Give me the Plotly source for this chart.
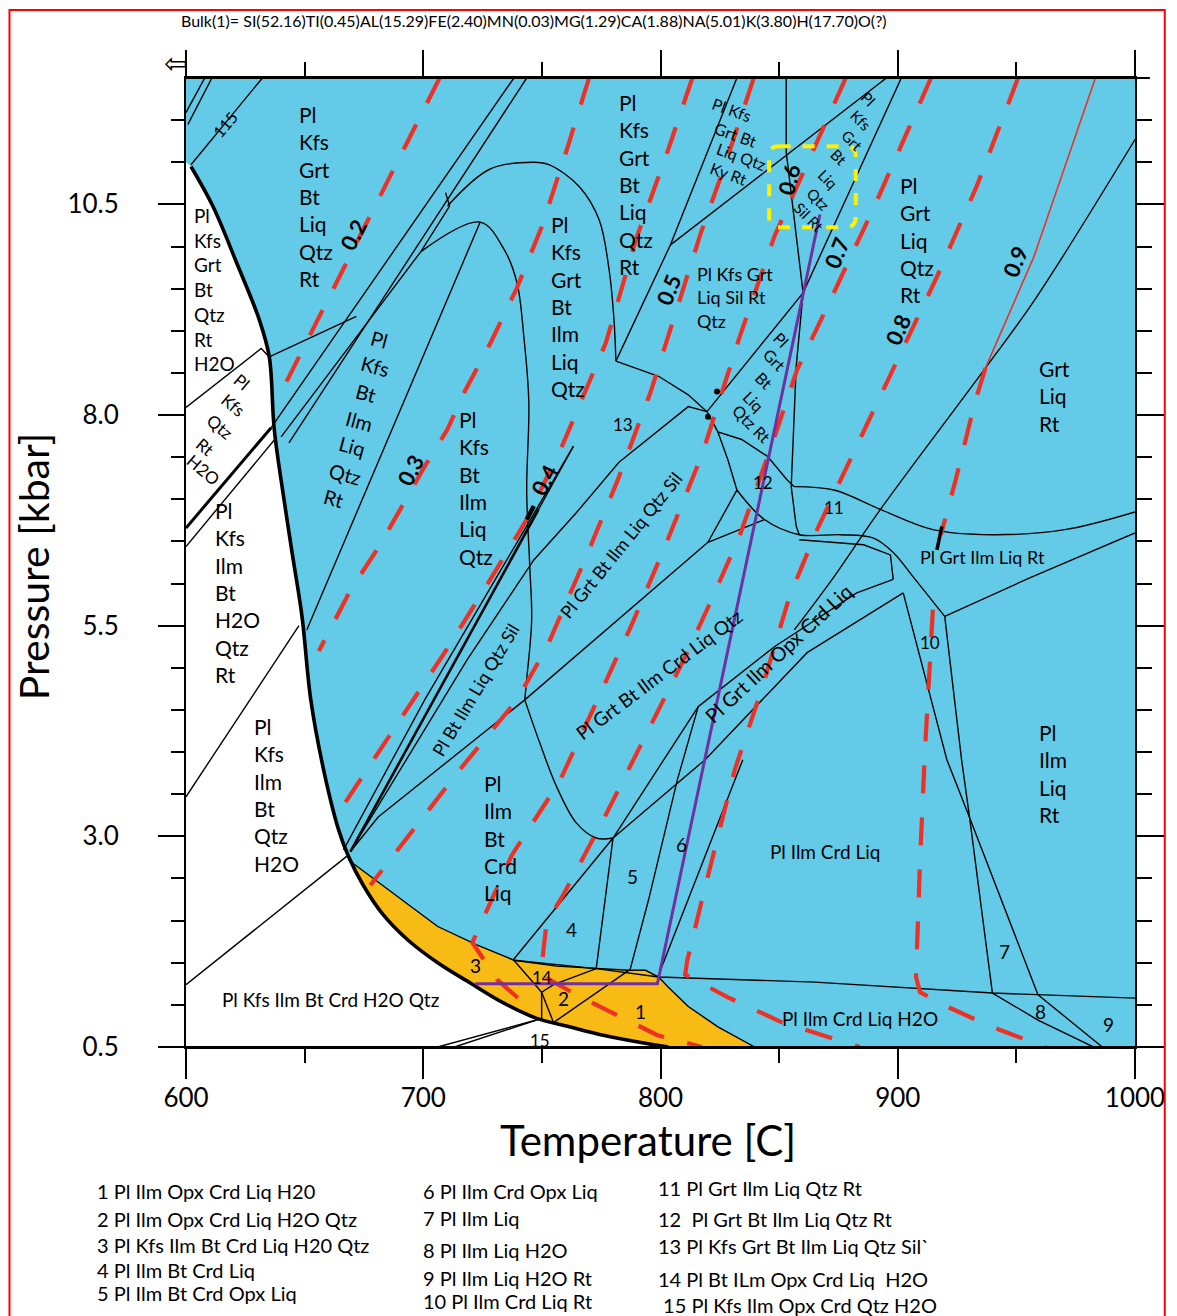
import plotly.graph_objects as go

# ---------------- axis ticks ----------------
T_MAJOR = [600, 700, 800, 900, 1000]
T_MINOR = [650, 750, 850, 950]
P_MAJOR = [0.5, 3.0, 5.5, 8.0, 10.5]
P_MAJOR_TEXT = ["0.5", "3.0", "5.5", "8.0", "10.5"]
P_MINOR = [1.0, 1.5, 2.0, 2.5, 3.5, 4.0, 4.5, 5.0, 6.0, 6.5, 7.0, 7.5,
           8.5, 9.0, 9.5, 10.0, 11.0, 11.5]
T_RANGE = [600, 1000]
P_RANGE = [0.5, 12.0]

BULK = "Bulk(1)= SI(52.16)TI(0.45)AL(15.29)FE(2.40)MN(0.03)MG(1.29)CA(1.88)NA(5.01)K(3.80)H(17.70)O(?)"

# ---------------- phase boundaries (T [C], P [kbar]) ----------------
solidus = [(602.1, 10.95), (611.3, 10.48), (621.3, 9.81), (630.9, 9.13), (635.1, 8.69),
           (637.2, 7.83), (641.3, 7.00), (644.7, 6.37), (648.9, 5.61), (652.6, 4.62),
           (658.0, 3.79), (664.3, 3.08), (668.5, 2.76), (674.7, 2.42), (683.1, 2.07),
           (693.5, 1.77), (706.1, 1.50), (719.8, 1.26), (734.0, 1.02), (747.8, 0.84),
           (761.6, 0.74), (775.8, 0.64), (792.5, 0.55), (803.3, 0.50)]
orange_top = [(668.5, 2.72), (681.0, 2.46), (693.5, 2.19), (706.1, 1.93), (722.8, 1.71),
              (738.2, 1.53), (756.2, 1.46), (772.9, 1.43), (786.6, 1.41), (793.7, 1.41),
              (799.2, 1.33), (803.3, 1.21), (811.7, 0.98), (824.2, 0.74), (839.7, 0.50)]
low_line = [(738.2, 1.53), (772.9, 1.43), (799.2, 1.33), (865.1, 1.27), (939.9, 1.14), (1000, 1.08)]

white_1 = [(600, 8.09), (631.7, 8.79), (635.1, 8.69)]
white_2 = [(600, 6.66), (635.9, 7.85)]
white_3 = [(600, 6.44), (638.0, 7.73)]
white_4 = [(600, 3.47), (647.6, 5.50)]
white_5 = [(600, 1.24), (668.5, 2.78)]
white_15a = [(706.1, 0.5), (747.8, 0.82)]
white_15b = [(713.2, 0.5), (749.9, 0.84)]
line_115 = [(602.1, 10.97), (632.2, 12.0)]
corner_1 = [(600, 11.59), (607.9, 12.0)]
corner_2 = [(600.8, 11.45), (610.9, 12.0)]

orange_1 = [(738.2, 1.53), (747.8, 1.21), (749.9, 1.15)]
orange_2 = [(749.9, 1.15), (749.9, 0.83)]
orange_3 = [(749.9, 1.15), (754.9, 0.79)]
orange_4 = [(749.9, 1.15), (754.9, 1.24), (772.9, 1.43)]
orange_5 = [(754.9, 0.79), (786.6, 1.41)]

line_L1 = [(738.2, 12.0), (635.9, 7.85)]
line_L2 = [(743.6, 12.0), (643.4, 7.67)]
line_L3 = [(709.4, 10.64), (711.1, 10.48), (699.0, 9.94), (640.1, 7.74)]
arc_E = [(710.2, 10.48), (728.2, 10.92), (746.6, 11.0), (753.2, 10.97), (765.8, 10.71),
         (774.1, 10.32), (778.3, 9.73), (780.4, 9.13), (781.2, 8.64)]
arc_F = [(699.0, 9.94), (724.0, 10.29), (734.0, 9.97), (739.5, 9.57), (742.4, 8.93),
         (744.5, 8.15), (743.6, 7.11), (744.9, 6.20), (745.7, 5.57), (743.6, 4.86), (742.8, 4.62)]
line_G = [(724.0, 10.29), (650.9, 5.45)]
line_H = [(635.1, 8.69), (671.8, 9.17)]
oval = [(742.8, 4.62), (749.1, 4.11), (756.2, 3.59), (764.5, 3.16), (772.9, 2.98), (780.0, 2.98)]
line_T1_thin = [(763.3, 7.63), (748.6, 6.88)]
line_T1_thick = [(748.6, 6.88), (669.3, 2.82)]
line_T2 = [(763.3, 7.63), (700.6, 4.62), (666.4, 2.84)]
line_T3 = [(819.6, 8.04), (811.7, 8.10), (782.5, 7.44), (764.5, 6.84), (746.6, 6.28),
           (718.6, 5.10), (669.3, 2.82)]
sil_low = [(742.8, 4.62), (681.0, 3.23), (669.3, 2.82)]
line_W = [(742.8, 4.62), (820.0, 6.49)]
line_J = [(781.2, 8.64), (804.2, 10.02), (832.2, 12.0)]
line_K = [(804.2, 10.02), (895.2, 12.0)]
line_L = [(853.0, 12.0), (853.0, 11.12), (860.1, 9.45), (857.2, 8.58), (855.1, 7.15),
          (857.2, 6.68), (858.5, 6.58)]
line_M = [(901.5, 12.0), (860.1, 9.45), (819.6, 8.04)]
line_P = [(781.2, 8.64), (799.2, 8.46), (811.7, 8.24), (819.6, 8.04)]
line_Q = [(819.6, 8.04), (824.2, 7.80), (834.2, 7.71), (845.1, 7.51), (853.4, 7.23), (856.4, 7.15)]
line_Q2 = [(824.2, 7.80), (828.4, 7.47), (832.2, 7.11)]
line_R = [(856.4, 7.15), (873.1, 7.11), (892.7, 6.88), (914.8, 6.64), (939.9, 6.58),
          (970.4, 6.64), (1000, 6.85)]
line_S = [(832.2, 7.11), (843.8, 6.76), (858.5, 6.58), (876.0, 6.58), (889.8, 6.54),
          (898.1, 6.37), (906.5, 6.08), (919.8, 5.61)]
line_S2 = [(858.5, 6.52), (885.6, 6.46), (896.9, 6.34), (898.1, 6.05)]
line_U = [(832.2, 7.11), (820.0, 6.49)]
line_V = [(820.0, 6.49), (843.8, 6.76)]
line_O = [(1000, 11.27), (957.8, 9.37), (937.0, 8.56), (892.7, 6.88), (873.1, 6.08), (856.4, 5.45)]
opx_upper = [(898.1, 6.05), (882.7, 5.89), (848.0, 5.25), (815.9, 4.54)]
opx_lower = [(780.0, 2.98), (818.8, 3.91), (861.8, 5.18), (902.3, 5.89)]
line_d1 = [(780.0, 2.98), (815.9, 4.54)]
line_e = [(787.1, 1.41), (795.0, 2.25), (807.1, 3.67), (815.9, 4.54)]
line_f = [(798.7, 1.32), (834.7, 3.91)]
line_g1 = [(780.0, 2.98), (737.8, 1.53)]
line_g2 = [(780.0, 2.98), (772.9, 1.43)]
line_XA = [(902.3, 5.89), (920.7, 3.91), (930.3, 3.22), (959.1, 1.12)]
line_XB = [(919.8, 5.61), (926.9, 3.91), (930.3, 3.22), (939.9, 1.14)]
line_rlow = [(919.8, 5.61), (956.6, 6.08), (1000, 6.60)]
line_89a = [(939.9, 1.14), (959.1, 0.82), (982.5, 0.5)]
line_89b = [(959.1, 1.12), (986.2, 0.5)]
tick_09 = [(918.6, 6.68), (916.5, 6.40)]
tick_04 = [(746.6, 6.92), (743.6, 6.76)]
dots = [(823.8, 8.28), (820.0, 7.98)]

# ---------------- isopleths ----------------
iso_02 = [(706.9, 12.0), (640.1, 8.27)]
iso_03 = [(769.9, 12.0), (760.3, 11.13), (749.9, 10.23), (739.5, 9.51), (728.6, 8.87),
          (717.3, 8.27), (710.2, 7.83), (700.6, 7.39), (681.8, 6.46), (669.3, 5.92), (656.0, 5.20)]
iso_04 = [(813.4, 12.0), (802.9, 11.12), (789.6, 10.08), (777.0, 8.86), (759.1, 7.67),
          (743.6, 6.76), (725.7, 5.93), (709.0, 5.18), (689.4, 4.35), (666.4, 3.37)]
iso_05 = [(839.3, 12.0), (827.1, 10.96), (817.1, 10.17), (809.6, 9.49), (795.8, 8.27),
          (782.0, 7.23), (768.7, 6.32), (752.0, 5.24), (739.5, 4.62), (716.5, 3.83),
          (693.5, 2.99), (677.7, 2.42)]
iso_06 = [(878.1, 12.0), (867.2, 11.31), (860.1, 10.88), (848.0, 10.12), (833.4, 8.93),
          (817.5, 7.53), (801.3, 6.40), (788.3, 5.54), (774.1, 4.66), (757.4, 3.65),
          (737.4, 2.78), (720.7, 1.74), (731.1, 1.30), (745.7, 0.94)]
iso_07 = [(914.0, 12.0), (890.2, 10.48), (869.7, 9.25), (857.6, 8.54), (847.2, 7.67),
          (833.0, 6.54), (820.9, 5.77), (810.4, 5.13), (792.9, 4.15), (775.4, 3.17),
          (759.1, 2.31), (752.0, 1.98), (749.5, 1.36), (764.5, 1.12), (798.7, 0.64), (817.5, 0.50)]
iso_08 = [(950.7, 12.0), (933.2, 10.71), (916.5, 9.64), (901.0, 8.72), (881.4, 7.55),
          (866.0, 6.64), (854.3, 5.84), (842.6, 4.74), (831.3, 3.79), (823.0, 2.88),
          (817.5, 2.25), (811.3, 1.53), (810.4, 1.36), (828.4, 1.09), (851.4, 0.79), (883.9, 0.50)]
iso_09_solid = [(983.3, 12.0), (957.4, 9.88), (937.0, 8.56)]
iso_09_upper = [(937.0, 8.56), (932.8, 8.18), (924.4, 7.23), (918.2, 6.58)]
iso_09_lower = [(914.8, 5.69), (911.5, 4.03), (909.4, 2.72), (908.1, 1.57), (907.7, 1.33),
                (909.4, 1.15), (922.3, 0.96), (939.5, 0.74), (962.4, 0.50)]
iso_labels = ["0.2", "0.3", "0.4", "0.5", "0.6", "0.7", "0.8", "0.9"]
iso_label_T = [670.6, 694.8, 751.2, 803.4, 854.0, 874.3, 900.2, 949.5]
iso_label_P = [10.14, 7.35, 7.23, 9.49, 10.80, 9.93, 9.01, 9.82]
iso_label_angle = [-63, -62, -62, -68, -75, -68, -66, -68]

# P-T path and highlighted field
path_T = [721.9, 798.7, 867.2]
path_P = [1.25, 1.25, 10.38]
box_T = [845.8, 882.3]
box_P = [10.23, 11.19]

BLUE = "#63CBE8"
ORANGE = "#F8BA15"
RED = "#EE3124"
PURPLE = "#7030A0"
FONT = "Lato"

fig = go.Figure()


def xs(pts):
    return [p[0] for p in pts]


def ys(pts):
    return [p[1] for p in pts]


def draw(pts, width=1.4, color="black", dash=None, shape="linear"):
    fig.add_trace(go.Scatter(x=xs(pts), y=ys(pts), mode="lines",
                             line=dict(color=color, width=width, dash=dash, shape=shape),
                             hoverinfo="skip", showlegend=False))


# filled fields
blue_poly = [(600, 12.0), (1000, 12.0), (1000, 0.5)] + solidus[::-1] + [(600, 11.0)]
fig.add_trace(go.Scatter(x=xs(blue_poly), y=ys(blue_poly), fill="toself", fillcolor=BLUE,
                         mode="lines", line=dict(width=0), hoverinfo="skip", showlegend=False))
lower_sol = [p for p in solidus if p[1] <= 2.76]
orange_poly = orange_top + lower_sol[::-1]
fig.add_trace(go.Scatter(x=xs(orange_poly), y=ys(orange_poly), fill="toself", fillcolor=ORANGE,
                         mode="lines", line=dict(width=0), hoverinfo="skip", showlegend=False))

# thin boundaries
for ln in [orange_top, low_line, white_1, white_3, white_4, white_5, white_15a, white_15b,
           line_115, corner_1, corner_2, orange_1, orange_2, orange_3, orange_4, orange_5,
           line_L1, line_L2, line_L3, line_G, line_H, line_T1_thin, line_T2, line_T3, sil_low,
           line_W, line_J, line_K, line_L, line_M, line_P, line_Q, line_Q2, line_S2, line_U,
           line_V, opx_upper, opx_lower, line_d1, line_e, line_f, line_g1, line_g2, line_XA,
           line_XB, line_rlow, line_89a, line_89b]:
    draw(ln)
for ln in [arc_E, arc_F, oval, line_R, line_S, line_O]:
    draw(ln, shape="spline")
draw(white_2, width=3)
draw(line_T1_thick, width=2.6)
draw(solidus, width=3.6, shape="spline")

# isopleths
DASH = "28px,24px"
for iso in [iso_02, iso_03, iso_04, iso_05, iso_06, iso_07, iso_08, iso_09_upper, iso_09_lower]:
    draw(iso, width=4.2, color=RED, dash=DASH)
draw(iso_09_solid, width=1.6, color=RED)
draw(tick_09, width=3.5)
draw(tick_04, width=4.5)
fig.add_trace(go.Scatter(x=xs(dots), y=ys(dots), mode="markers",
                         marker=dict(color="black", size=6), hoverinfo="skip", showlegend=False))

# P-T path
fig.add_trace(go.Scatter(x=path_T, y=path_P, mode="lines", line=dict(color=PURPLE, width=3),
                         hoverinfo="skip", showlegend=False))

# dummy trace for mirrored axes
fig.add_trace(go.Scatter(x=[T_RANGE[0]], y=[P_RANGE[0]], xaxis="x2", yaxis="y2", mode="markers",
                         marker=dict(opacity=0), hoverinfo="skip", showlegend=False))

# yellow rounded box
rT, rP = 4.0, 0.12
t0, t1 = box_T
p0, p1 = box_P
box_path = (f"M {t0+rT},{p1} L {t1-rT},{p1} Q {t1},{p1} {t1},{p1-rP} L {t1},{p0+rP} "
            f"Q {t1},{p0} {t1-rT},{p0} L {t0+rT},{p0} Q {t0},{p0} {t0},{p0+rP} "
            f"L {t0},{p1-rP} Q {t0},{p1} {t0+rT},{p1} Z")
fig.add_shape(type="path", path=box_path, xref="x", yref="y",
              line=dict(color="#FFF200", width=4, dash="dash"))

# ---------------- labels ----------------
def label(text, T, P, size=20, angle=0, anchor="center", bold=False, align="left"):
    fig.add_annotation(x=T, y=P, xref="x", yref="y", text=text, showarrow=False,
                       textangle=angle, xanchor=anchor, yanchor="middle", align=align,
                       font=dict(family=FONT, size=size, color="black",
                                 weight="bold" if bold else "normal"))


stacks = [
    ("Pl<br>Kfs<br>Grt<br>Bt<br>Liq<br>Qtz<br>Rt", 646.8, 10.59, 21),
    ("Pl<br>Kfs<br>Grt<br>Bt<br>Qtz<br>Rt<br>H2O", 602.5, 9.49, 19),
    ("Pl<br>Kfs<br>Ilm<br>Bt<br>H2O<br>Qtz<br>Rt", 611.5, 5.89, 21),
    ("Pl<br>Kfs<br>Ilm<br>Bt<br>Qtz<br>H2O", 628.0, 3.49, 21),
    ("Pl<br>Kfs<br>Bt<br>Ilm<br>Liq<br>Qtz", 714.4, 7.14, 21),
    ("Pl<br>Kfs<br>Grt<br>Bt<br>Ilm<br>Liq<br>Qtz", 752.8, 9.29, 21),
    ("Pl<br>Kfs<br>Grt<br>Bt<br>Liq<br>Qtz<br>Rt", 781.6, 10.74, 21),
    ("Pl Kfs Grt<br>Liq Sil Rt<br>Qtz", 814.6, 9.40, 18),
    ("Pl<br>Grt<br>Liq<br>Qtz<br>Rt", 900.2, 10.08, 21),
    ("Grt<br>Liq<br>Rt", 958.7, 8.23, 21),
    ("Pl<br>Ilm<br>Liq<br>Rt", 958.7, 3.75, 21),
    ("Pl<br>Ilm<br>Bt<br>Crd<br>Liq", 724.8, 2.98, 21),
]
for txt, T, P, s in stacks:
    label(txt, T, P, size=s, anchor="left")

word_groups = [
    (["Pl", "Kfs", "Qtz", "Rt", "H2O"], [623.4, 619.6, 614.2, 607.9, 607.1],
     [8.40, 8.12, 7.86, 7.63, 7.35], 17, 40),
    (["Pl", "Kfs", "Bt", "Ilm", "Liq", "Qtz", "Rt"],
     [681.4, 679.7, 676.0, 673.1, 670.1, 667.2, 662.2],
     [8.90, 8.58, 8.26, 7.93, 7.63, 7.30, 7.02], 20, 15),
    (["Pl Kfs", "Grt Bt", "Liq Qtz", "Ky Rt"], [830.1, 831.7, 834.2, 828.8],
     [11.63, 11.33, 11.07, 10.87], 16, 20),
    (["Pl", "Kfs", "Grt", "Bt", "Liq", "Qtz", "Sil Rt"],
     [887.7, 884.3, 880.6, 875.2, 870.6, 866.4, 862.6],
     [11.75, 11.50, 11.26, 11.06, 10.80, 10.56, 10.35], 15, 45),
    (["Pl", "Grt", "Bt", "Liq", "Qtz Rt"], [851.0, 848.0, 843.8, 839.3, 838.4],
     [8.90, 8.66, 8.41, 8.16, 7.90], 16, 45),
]
for words, Ts, Ps, s, ang in word_groups:
    for w, T, P in zip(words, Ts, Ps):
        label(w, T, P, size=s, angle=ang)

singles = [
    ("Pl Kfs Ilm Bt Crd H2O Qtz", 661.0, 1.06, 19, 0),
    ("Pl Grt Ilm Liq Rt", 935.7, 6.32, 18, 0),
    ("Pl Ilm Crd Liq", 869.7, 2.82, 19, 0),
    ("Pl Ilm Crd Liq H2O", 883.9, 0.84, 19, 0),
    ("Pl Grt Bt Ilm Liq Qtz Sil", 783.3, 6.46, 18, -51),
    ("Pl Grt Bt Ilm Crd Liq Qtz", 799.2, 4.92, 19, -37),
    ("Pl Grt Ilm Opx Crd Liq", 849.7, 5.18, 20, -43),
    ("Pl Bt Ilm Liq Qtz Sil", 721.9, 4.74, 18, -59),
    ("115", 616.3, 11.45, 16, -50),
]
for txt, T, P, s, ang in singles:
    label(txt, T, P, size=s, angle=ang)

num_text = ["13", "12", "11", "10", "7", "8", "9", "6", "5", "4", "3", "14", "2", "1", "15"]
num_T = [784.1, 843.0, 873.1, 913.6, 944.9, 960.3, 988.7, 808.8, 788.3, 762.5, 721.9, 749.9, 759.1, 791.7, 749.1]
num_P = [7.89, 7.20, 6.90, 5.30, 1.63, 0.92, 0.77, 2.90, 2.52, 1.89, 1.47, 1.33, 1.08, 0.92, 0.58]
for t, T, P in zip(num_text, num_T, num_P):
    label(t, T, P, size=17 if len(t) > 1 else 19)

for t, T, P, a in zip(iso_labels, iso_label_T, iso_label_P, iso_label_angle):
    label(t, T, P, size=22, angle=a, bold=True)

# ---------------- paper-level text ----------------
def px_x(px):
    return (px - 186) / 957.0


def px_y(py):
    return (1047 - py) / 969.0


def paper_text(text, px, py, size, angle=0, family=FONT, xanchor="center"):
    fig.add_annotation(x=px_x(px), y=px_y(py), xref="paper", yref="paper", text=text,
                       showarrow=False, textangle=angle, xanchor=xanchor, yanchor="middle",
                       font=dict(family=family, size=size, color="black"))


paper_text(BULK, 537, 20, 16)
paper_text("⇦", 175, 64, 28, family="DejaVu Sans")
paper_text("Pressure [kbar]", 32, 566, 41, angle=-90)
paper_text("Temperature [C]", 652, 1140, 42)

legend_cols = [
    (94, ["1 Pl Ilm Opx Crd Liq H20", "2 Pl Ilm Opx Crd Liq H2O Qtz",
          "3 Pl Kfs Ilm Bt Crd Liq H20 Qtz", "4 Pl Ilm Bt Crd Liq", "5 Pl Ilm Bt Crd Opx Liq"],
     [1191, 1219, 1245, 1270, 1293]),
    (423, ["6 Pl Ilm Crd Opx Liq", "7 Pl Ilm Liq", "8 Pl Ilm Liq H2O", "9 Pl Ilm Liq H2O Rt",
           "10 Pl Ilm Crd Liq Rt"],
     [1191, 1218, 1250, 1278, 1301]),
    (660, ["11 Pl Grt Ilm Liq Qtz Rt", "12&nbsp; Pl Grt Bt Ilm Liq Qtz Rt",
           "13 Pl Kfs Grt Bt Ilm Liq Qtz Sil`", "14 Pl Bt ILm Opx Crd Liq&nbsp; H2O",
           "&nbsp;15 Pl Kfs Ilm Opx Crd Qtz H2O"],
     [1188, 1219, 1246, 1279, 1305]),
]
for x0, lines, ypos in legend_cols:
    for t, yp in zip(lines, ypos):
        paper_text(t, x0, yp, 20, xanchor="left")

# axis line extensions and red frame
fig.add_shape(type="line", xref="paper", yref="paper", x0=px_x(160), x1=px_x(1170), y0=0, y1=0,
              line=dict(color="black", width=2))
fig.add_shape(type="line", xref="paper", yref="paper", x0=0, x1=px_x(1158), y0=1, y1=1,
              line=dict(color="black", width=2))
fig.add_shape(type="rect", xref="paper", yref="paper", x0=px_x(8), x1=px_x(1173),
              y0=px_y(1330), y1=px_y(10), line=dict(color="#FF0000", width=2))

tickfont = dict(family=FONT, size=26, color="black")
common = dict(showgrid=False, zeroline=False, showline=True, linecolor="black", linewidth=2,
              ticks="outside", tickcolor="black", tickwidth=2)
fig.update_layout(
    width=1177, height=1316,
    margin=dict(l=186, r=34, t=78, b=269),
    paper_bgcolor="white", plot_bgcolor="white",
    showlegend=False,
    xaxis=dict(range=T_RANGE, tickmode="array", tickvals=T_MAJOR, ticklen=30,
               tickfont=tickfont, ticklabelstandoff=-3,
               minor=dict(tickmode="array", tickvals=T_MINOR, ticklen=14, tickwidth=2,
                          ticks="outside", tickcolor="black"), **common),
    yaxis=dict(range=P_RANGE, tickmode="array", tickvals=P_MAJOR, ticktext=P_MAJOR_TEXT,
               ticklen=26, tickfont=tickfont, ticklabelstandoff=34,
               minor=dict(tickmode="array", tickvals=P_MINOR, ticklen=13, tickwidth=2,
                          ticks="outside", tickcolor="black"), **common),
    xaxis2=dict(range=T_RANGE, overlaying="x", side="top", tickmode="array", tickvals=T_MAJOR,
                ticklen=26, showticklabels=False,
                minor=dict(tickmode="array", tickvals=T_MINOR, ticklen=14, tickwidth=2,
                           ticks="outside", tickcolor="black"), **common),
    yaxis2=dict(range=P_RANGE, overlaying="y", side="right", tickmode="array", tickvals=P_MAJOR,
                ticklen=27, showticklabels=False,
                minor=dict(tickmode="array", tickvals=P_MINOR, ticklen=15, tickwidth=2,
                           ticks="outside", tickcolor="black"), **common),
)

fig.write_html("out.html")
